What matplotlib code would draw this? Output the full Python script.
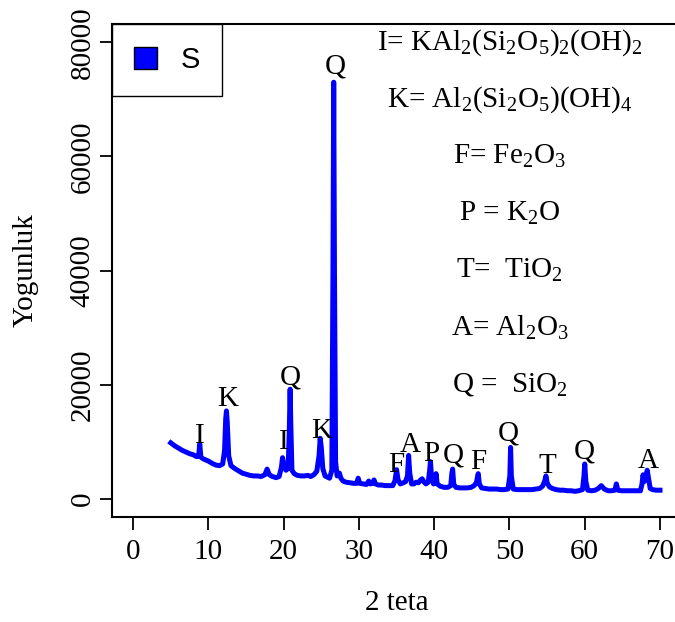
import numpy as np
import matplotlib
matplotlib.use("Agg")
import matplotlib.pyplot as plt
from matplotlib.patches import Patch

plt.rcParams["font.family"] = ["Liberation Serif", "DejaVu Serif"]
plt.rcParams["mathtext.fontset"] = "custom"
plt.rcParams["mathtext.rm"] = "Liberation Serif"
plt.rcParams["mathtext.it"] = "Liberation Serif:italic"

# XRD pattern (intensity in thousands of counts)
two_theta = [
    5.0, 5.5, 6.0, 6.5, 7.0, 7.5, 8.0, 8.4, 8.7, 8.85, 9.0, 9.3, 10.0, 10.5,
    11.0, 11.5, 11.9, 12.15, 12.3, 12.4, 12.5, 12.7, 13.0, 13.5, 14.0, 14.5,
    15.0, 15.5, 16.0, 16.5, 17.0, 17.5, 17.8, 18.1, 18.5, 19.0, 19.4, 19.7,
    19.85, 20.0, 20.3, 20.6, 20.75, 20.86, 20.95, 21.1, 21.4, 21.8, 22.3,
    22.8, 23.2, 23.6, 24.0, 24.4, 24.7, 24.85, 25.0, 25.2, 25.5, 25.8, 26.1,
    26.4, 26.55, 26.65, 26.75, 26.9, 27.1, 27.4, 27.6, 27.9, 28.3, 28.8,
    29.3, 29.7, 29.9, 30.1, 30.6, 31.0, 31.3, 31.5, 31.8, 32.0, 32.2, 32.6,
    33.0, 33.5, 34.0, 34.5, 34.8, 35.0, 35.2, 35.5, 35.9, 36.2, 36.45, 36.6,
    36.75, 37.0, 37.3, 37.6, 37.9, 38.2, 38.4, 38.6, 38.9, 39.2, 39.4, 39.5,
    39.65, 39.9, 40.1, 40.25, 40.4, 40.8, 41.3, 41.8, 42.2, 42.35, 42.45,
    42.6, 42.9, 43.4, 43.9, 44.4, 44.9, 45.3, 45.6, 45.85, 46.0, 46.3, 46.8,
    47.3, 47.8, 48.3, 48.8, 49.3, 49.8, 50.05, 50.15, 50.25, 50.5, 51.0,
    51.5, 52.0, 52.5, 53.0, 53.5, 54.0, 54.4, 54.7, 54.85, 55.0, 55.3, 55.7,
    56.2, 56.7, 57.2, 57.7, 58.2, 58.7, 59.2, 59.7, 59.9, 60.0, 60.15, 60.4,
    60.9, 61.4, 61.8, 62.2, 62.6, 63.1, 63.6, 64.0, 64.2, 64.4, 64.9, 65.4,
    65.9, 66.4, 66.9, 67.4, 67.6, 67.75, 67.9, 68.1, 68.3, 68.45, 68.7,
    69.0, 69.5, 70.0,
]
counts_k = [
    9.8, 9.3, 8.9, 8.5, 8.2, 7.9, 7.7, 7.4, 7.4, 9.6, 7.3, 7.0, 6.6, 6.2,
    5.9, 5.8, 6.1, 8.5, 14.0, 15.4, 13.5, 7.5, 5.8, 5.3, 4.9, 4.5,
    4.3, 4.1, 4.0, 4.0, 3.9, 4.2, 5.2, 4.2, 3.9, 3.7, 3.9, 5.5,
    7.2, 6.2, 5.0, 5.3, 12.0, 19.2, 13.0, 5.0, 4.4, 4.1, 4.0,
    4.0, 4.1, 3.9, 4.2, 4.8, 7.5, 10.6, 9.0, 5.3, 4.0, 3.8, 3.6,
    5.0, 40.0, 73.0, 40.0, 6.5, 4.0, 4.5, 3.6, 3.1, 2.9, 2.8,
    2.7, 2.7, 3.6, 2.7, 2.6, 2.5, 3.1, 2.6, 2.7, 3.3, 2.6, 2.4,
    2.4, 2.3, 2.3, 2.3, 3.2, 5.1, 3.3, 2.6, 2.8, 3.0, 4.0, 7.6,
    4.5, 2.6, 2.6, 2.9, 2.8, 3.3, 3.5, 3.0, 2.6, 2.9, 5.0, 6.5,
    3.8, 2.6, 2.8, 4.4, 2.6, 2.2, 2.0, 2.0, 2.3, 4.5, 5.2,
    2.5, 2.0, 1.9, 1.9, 1.9, 2.0, 2.3, 2.8, 4.4, 2.6, 1.9, 1.8,
    1.7, 1.7, 1.7, 1.6, 1.6, 1.7, 4.0, 9.0, 4.0, 1.7, 1.6,
    1.6, 1.6, 1.6, 1.6, 1.7, 1.8, 2.2, 3.2, 4.0, 2.8, 2.1, 1.8,
    1.6, 1.5, 1.5, 1.4, 1.4, 1.3, 1.4, 1.6, 4.0, 6.1, 3.0, 1.5,
    1.4, 1.5, 1.8, 2.3, 1.7, 1.4, 1.4, 1.5, 2.6, 1.5, 1.4, 1.4,
    1.4, 1.4, 1.4, 1.4, 2.5, 4.2, 3.0, 3.5, 5.0, 3.8, 1.8,
    1.6, 1.5, 1.5,
]

# phase letters above the peaks
peak_letters = ["I", "K", "I", "Q", "K", "Q", "F", "A", "P", "Q", "F", "Q", "T", "Q", "A"]
peak_x = [8.9, 12.5, 20.0, 20.9, 25.0, 26.8, 35.0, 36.8, 39.6, 42.5, 45.9, 49.9, 55.0, 60.0, 68.4]
peak_y = [11000, 17500, 10000, 21300, 11900, 75800, 5900, 9500, 7900, 7500, 6500, 11400, 5800, 8200, 6600]

# phase key
phase_key = [
    r"I= KAl$_2$(Si$_2$O$_5$)$_2$(OH)$_2$",
    r"K= Al$_2$(Si$_2$O$_5$)(OH)$_4$",
    r"F= Fe$_2$O$_3$",
    r"P = K$_2$O",
    r"T=  TiO$_2$",
    r"A= Al$_2$O$_3$",
    r"Q =  SiO$_2$",
]
key_y = [80000, 70000, 60000, 50000, 40000, 30000, 20000]

fs = 21

fig = plt.figure(figsize=(6.75, 6.22), dpi=100)
ax = fig.add_axes([0.166, 0.1688, 0.843, 0.7926])

ax.plot(two_theta, np.array(counts_k) * 1000, color="#0000FF", lw=3.6,
        solid_joinstyle="round")

for lab, x, y in zip(peak_letters, peak_x, peak_y):
    ax.text(x, y, lab, ha="center", va="center", fontsize=fs)

for lab, y in zip(phase_key, key_y):
    ax.text(50, y, lab, ha="center", va="center", fontsize=fs)

ax.set_xlim(-2.8, 72.8)
ax.set_ylim(-3200, 83200)
ax.set_xticks(range(0, 71, 10))
ax.set_yticks(range(0, 80001, 20000))
ax.tick_params(direction="out", length=9, width=1.3, labelsize=fs, pad=7)
ax.tick_params(axis="y", labelrotation=90, pad=3)
for t in ax.get_yticklabels():
    t.set_va("center")
for s in ax.spines.values():
    s.set_linewidth(1.5)
ax.spines["right"].set_visible(False)

ax.set_xlabel("2 teta", fontsize=fs, labelpad=18)
ax.set_ylabel("Yogunluk", fontsize=fs, labelpad=22)

leg = ax.legend(handles=[Patch(facecolor="#0000FF", edgecolor="black", label="S")],
                loc="upper left", borderaxespad=0, fancybox=False,
                framealpha=1, edgecolor="black", prop={"family": "Liberation Sans", "size": fs},
                handlelength=0.8, handleheight=0.8, handletextpad=0.8, borderpad=0.75)
leg.get_frame().set_linewidth(1.0)

fig.savefig("out.png", dpi=100)
